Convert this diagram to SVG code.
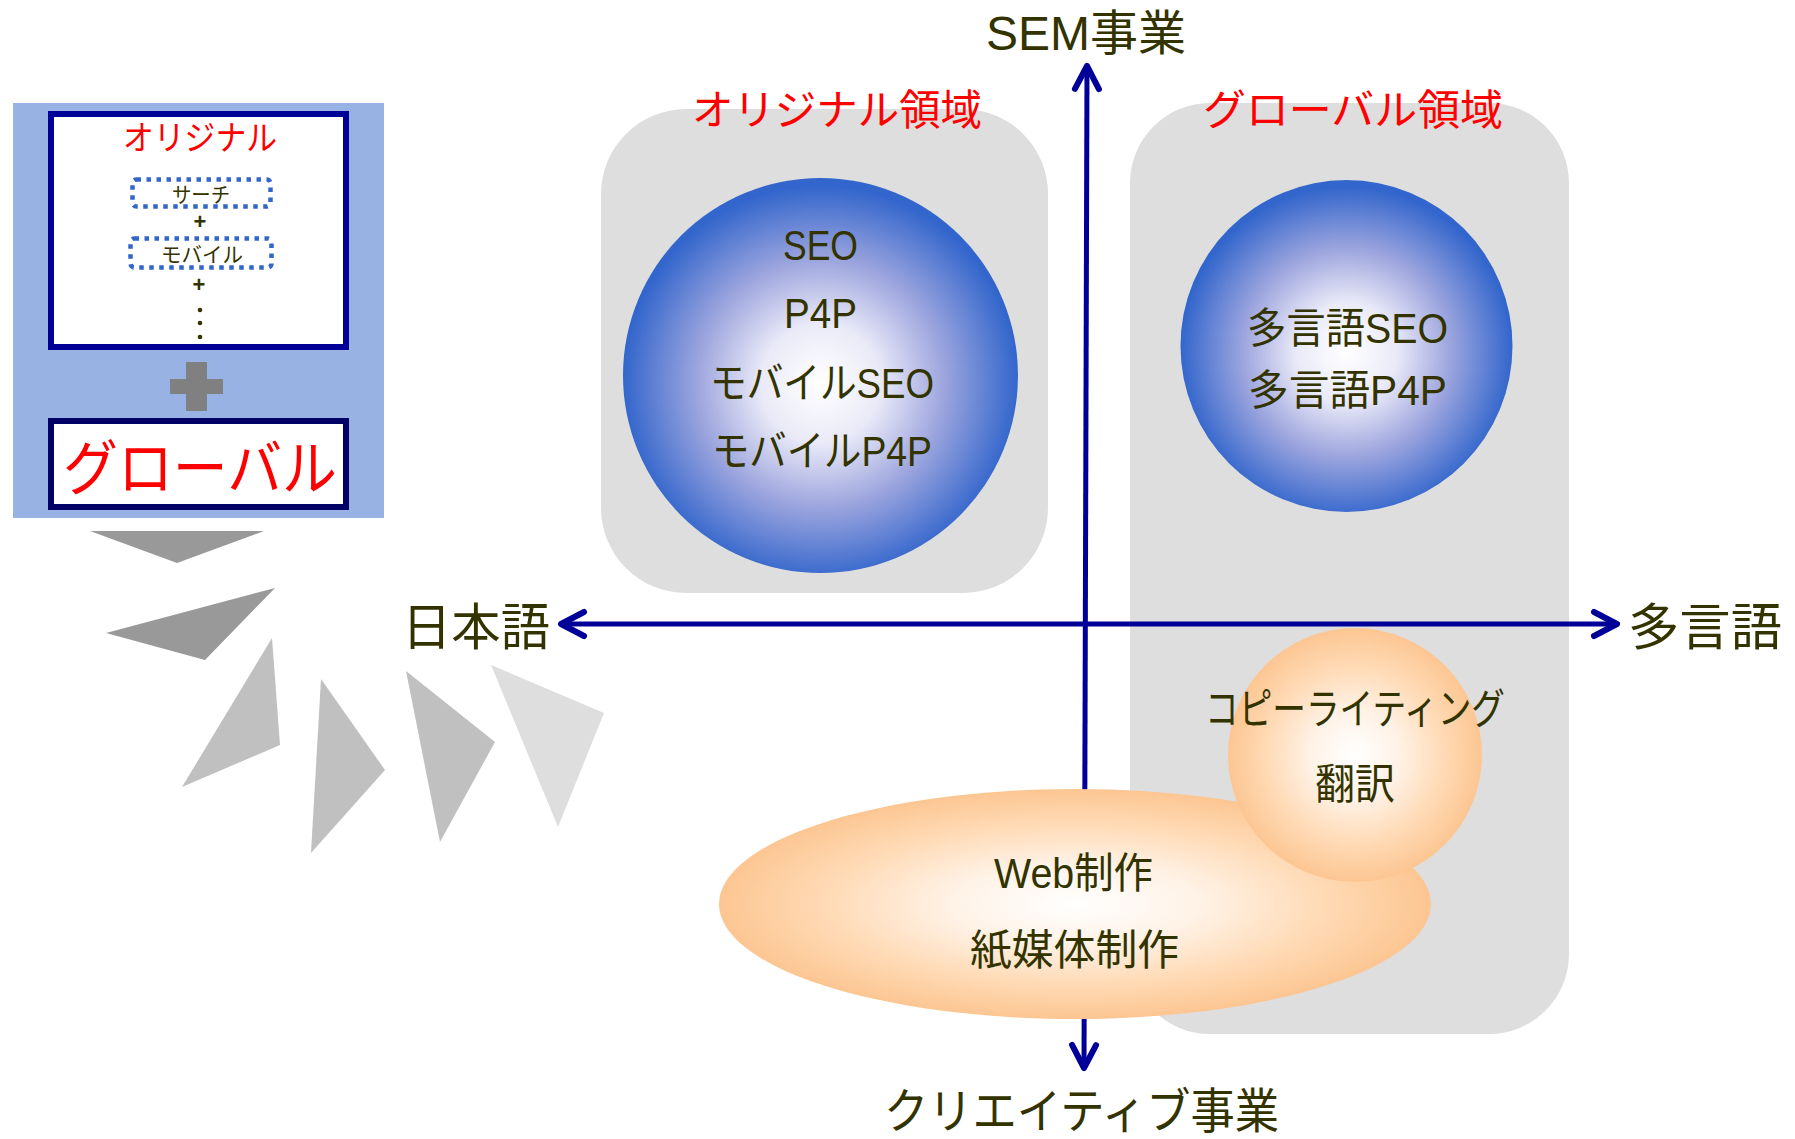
<svg xmlns="http://www.w3.org/2000/svg" width="1795" height="1139" viewBox="0 0 1795 1139">
<style>
text{font-family:"Liberation Sans","Noto Sans CJK JP",sans-serif;}
.lbl{fill:#333300;font-size:42px;}
.axis{fill:#333300;font-size:50px;}
.red{fill:#FF0000;font-size:42px;}
.small{fill:#333300;font-size:21px;}
.region{fill:#DEDEDE;}
.ax{stroke:#000099;stroke-width:5;fill:none;marker-start:url(#ah);marker-end:url(#ah);}
.dots{fill:none;stroke:#3366CC;stroke-width:4.5;stroke-dasharray:4.5 5.5;}
</style>
<defs>
<radialGradient id="blue" cx="50%" cy="52%" r="50%">
<stop offset="0" stop-color="#FFFFFF"/>
<stop offset="0.3" stop-color="#EAEAF8"/>
<stop offset="0.62" stop-color="#9EA6DE"/>
<stop offset="1" stop-color="#3366CC"/>
</radialGradient>
<radialGradient id="peach" cx="50%" cy="50%" r="50%">
<stop offset="0" stop-color="#FFFFFF"/>
<stop offset="0.35" stop-color="#FFF2E6"/>
<stop offset="0.7" stop-color="#FFDAB5"/>
<stop offset="1" stop-color="#FCC692"/>
</radialGradient>
<marker id="ah" viewBox="-30 -20 40 40" markerWidth="40" markerHeight="40" refX="0" refY="0" orient="auto-start-reverse" markerUnits="userSpaceOnUse">
<path d="M-23,-12 L0,0 L-23,12" fill="none" stroke="#000099" stroke-width="6" stroke-linecap="round" stroke-linejoin="round"/>
</marker>
</defs>

<g id="legend">
<rect x="13" y="103" width="371" height="415" fill="#98B2E4"/>
<rect x="51" y="114" width="295" height="233" fill="#FFFFFF" stroke="#000099" stroke-width="6"/>
<text x="123" y="150" class="red" style="font-size:34px" textLength="154" lengthAdjust="spacingAndGlyphs">オリジナル</text>
<rect x="132.5" y="179.5" width="138" height="27" rx="4" class="dots"/>
<text x="172" y="202" class="small" textLength="58" lengthAdjust="spacingAndGlyphs">サーチ</text>
<text x="200" y="229" text-anchor="middle" style="fill:#333300;font-size:22px;font-weight:bold">+</text>
<rect x="130.5" y="238.5" width="141" height="29" rx="4" class="dots"/>
<text x="161" y="262" class="small" textLength="82" lengthAdjust="spacingAndGlyphs">モバイル</text>
<text x="199" y="292" text-anchor="middle" style="fill:#333300;font-size:22px;font-weight:bold">+</text>
<circle cx="200" cy="310" r="2.3" fill="#333300"/>
<circle cx="200" cy="323" r="2.3" fill="#333300"/>
<circle cx="200" cy="337" r="2.3" fill="#333300"/>
<path d="M186,362 H207 V379 H223 V394 H207 V411 H186 V394 H170 V379 H186 Z" fill="#808080"/>
<rect x="51" y="421" width="295" height="86" fill="#FFFFFF" stroke="#000066" stroke-width="6"/>
<text x="63" y="490" class="red" style="font-size:60px" textLength="274" lengthAdjust="spacingAndGlyphs">グローバル</text>
</g>

<g id="decor">
<polygon points="90,531 264,531 177,563" fill="#999999"/>
<polygon points="106,633 275,588 205,660" fill="#999999"/>
<polygon points="272,638 280,745 182,787" fill="#C0C0C0"/>
<polygon points="321,679 385,770 311,853" fill="#C0C0C0"/>
<polygon points="406,671 495,742 440,842" fill="#C0C0C0"/>
<polygon points="491,665 604,713 558,827" fill="#DEDEDE"/>
</g>

<g id="region-original">
<rect x="601" y="109" width="447" height="484" rx="85" class="region"/>
<text x="692" y="125" class="red" textLength="290" lengthAdjust="spacingAndGlyphs">オリジナル領域</text>
</g>
<g id="region-global">
<rect x="1130" y="103" width="439" height="931" rx="80" class="region"/>
<text x="1203" y="125" class="red" textLength="300" lengthAdjust="spacingAndGlyphs">グローバル領域</text>
</g>

<g id="node-original">
<circle cx="820.5" cy="375.5" r="197.5" fill="url(#blue)"/>
<text x="783" y="260" class="lbl" textLength="75" lengthAdjust="spacingAndGlyphs">SEO</text>
<text x="784" y="328" class="lbl" textLength="73" lengthAdjust="spacingAndGlyphs">P4P</text>
<text x="710" y="398" class="lbl" textLength="224" lengthAdjust="spacingAndGlyphs">モバイルSEO</text>
<text x="712" y="466" class="lbl" textLength="220" lengthAdjust="spacingAndGlyphs">モバイルP4P</text>
</g>

<g id="node-global">
<circle cx="1346.5" cy="346" r="166" fill="url(#blue)"/>
<text x="1247" y="343" class="lbl" textLength="201" lengthAdjust="spacingAndGlyphs">多言語SEO</text>
<text x="1248" y="405" class="lbl" textLength="199" lengthAdjust="spacingAndGlyphs">多言語P4P</text>
</g>

<g id="connectors">
<line x1="561" y1="624" x2="1617" y2="624" class="ax"/>
<line x1="1087" y1="66" x2="1084" y2="1068" class="ax"/>
</g>

<g id="axis-labels">
<text x="986" y="50" style="fill:#333300;font-size:48px" textLength="200" lengthAdjust="spacingAndGlyphs">SEM事業</text>
<text x="402" y="645" class="axis" textLength="148" lengthAdjust="spacingAndGlyphs">日本語</text>
<text x="1628" y="645" class="axis" textLength="154" lengthAdjust="spacingAndGlyphs">多言語</text>
<text x="884" y="1128" style="fill:#333300;font-size:48px" textLength="395" lengthAdjust="spacingAndGlyphs">クリエイティブ事業</text>
</g>

<g id="node-creative">
<ellipse cx="1075" cy="904" rx="356" ry="115" fill="url(#peach)"/>
<text x="994" y="888" class="lbl" textLength="159" lengthAdjust="spacingAndGlyphs">Web制作</text>
<text x="970" y="965" class="lbl" textLength="209" lengthAdjust="spacingAndGlyphs">紙媒体制作</text>
</g>

<g id="node-copy">
<circle cx="1355" cy="755" r="127" fill="url(#peach)"/>
<text x="1205" y="724" class="lbl" textLength="300" lengthAdjust="spacingAndGlyphs">コピーライティング</text>
<text x="1315" y="799" class="lbl" textLength="80" lengthAdjust="spacingAndGlyphs">翻訳</text>
</g>
</svg>
